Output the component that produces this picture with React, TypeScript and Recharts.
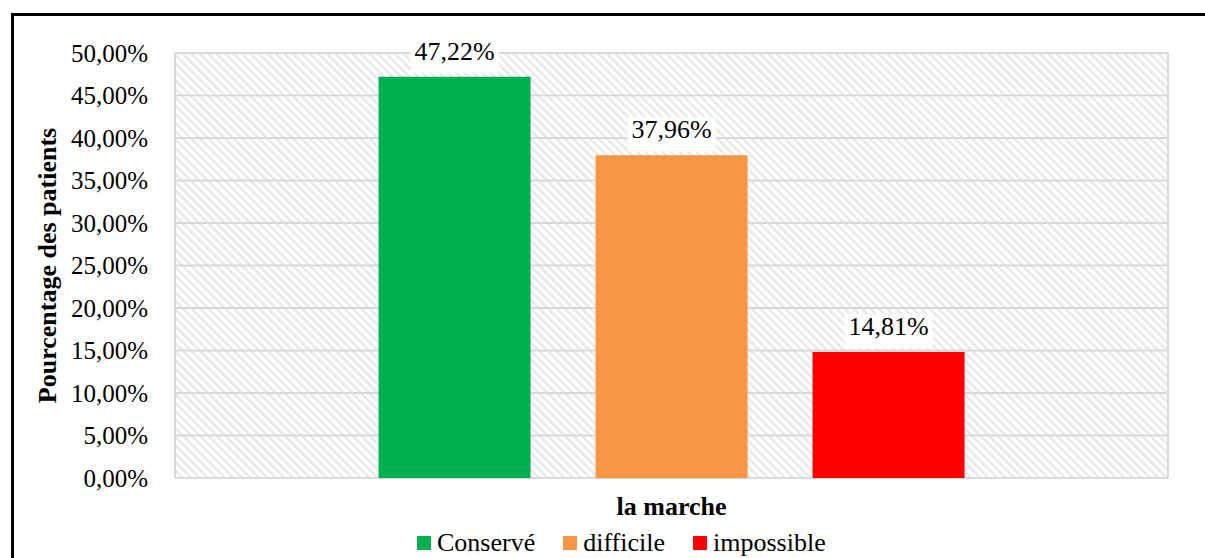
import { BarChart, Bar, XAxis, YAxis, CartesianGrid, Legend, LabelList } from "recharts";

const categories = ["la marche"];
const conserve = [0.4722];
const difficile = [0.3796];
const impossible = [0.1481];
const yTicks = [0, 0.05, 0.1, 0.15, 0.2, 0.25, 0.3, 0.35, 0.4, 0.45, 0.5];

const series = [
  { key: "conserve", name: "Conservé", color: "#00B050", values: conserve },
  { key: "difficile", name: "difficile", color: "#F79646", values: difficile },
  { key: "impossible", name: "impossible", color: "#FF0000", values: impossible },
];

const data = categories.map((cat, i) => ({
  cat,
  conserve: conserve[i],
  difficile: difficile[i],
  impossible: impossible[i],
}));

const FONT = '"Liberation Serif", "Times New Roman", serif';

function pct(v: number): string {
  return (v * 100).toFixed(2).replace(".", ",") + "%";
}

function YTitle(props: any) {
  const vb = props.viewBox;
  const cx = vb.x + 47;
  const cy = vb.y + vb.height / 2;
  return (
    <text
      x={cx}
      y={cy}
      transform={`rotate(-90 ${cx} ${cy})`}
      textAnchor="middle"
      dominantBaseline="central"
      fontFamily={FONT}
      fontWeight="bold"
      fontSize={26}
      fill="#000"
    >
      Pourcentage des patients
    </text>
  );
}

// value label with white box behind it, like the Excel one
function ValueLabel(props: any) {
  const { x, y, width, value } = props;
  const cx = x + width / 2;
  return (
    <g>
      <rect x={cx - 44} y={y - 38} width={88} height={34} fill="#fff" />
      <text x={cx} y={y - 17} textAnchor="middle" fontFamily={FONT} fontSize={26} fill="#000">
        {pct(value)}
      </text>
    </g>
  );
}

function LegendBox() {
  return (
    <div
      style={{
        display: "flex",
        alignItems: "center",
        height: 30,
        paddingLeft: 417,
        fontFamily: FONT,
        fontSize: 26,
        color: "#000",
      }}
    >
      {series.map((s) => (
        <div key={s.key} style={{ display: "flex", alignItems: "center", marginRight: 28 }}>
          <span style={{ width: 14, height: 14, background: s.color, marginRight: 6 }} />
          <span style={{ lineHeight: "30px" }}>{s.name}</span>
        </div>
      ))}
    </div>
  );
}

export default function App() {
  return (
    <div
      style={{
        position: "fixed",
        left: 0,
        top: 0,
        width: 1205,
        height: 558,
        overflow: "hidden",
        background: "#fff",
      }}
    >
      {/* outer frame, cut off at right and bottom in the source */}
      <div
        style={{
          position: "absolute",
          left: 11,
          top: 13,
          width: 1220,
          height: 580,
          border: "3px solid #000",
        }}
      />
      <div style={{ position: "absolute", left: 0, top: 0 }}>
        <BarChart
          width={1205}
          height={558}
          data={data}
          margin={{ top: 53, right: 37, bottom: 0, left: 0 }}
          barCategoryGap="20.5%"
          barGap={65}
        >
          <defs>
            <pattern
              id="hatch"
              patternUnits="userSpaceOnUse"
              width={6}
              height={6}
              patternTransform="rotate(-45)"
            >
              <rect x={0} y={0} width={6} height={6} fill="#fff" />
              <rect x={0} y={0} width={2.4} height={6} fill="#E8E8E8" />
            </pattern>
          </defs>
          <CartesianGrid
            fill="url(#hatch)"
            stroke="#D9D9D9"
            strokeWidth={2}
            vertical={true}
            verticalCoordinatesGenerator={({ offset }: any) => [offset.left, offset.left + offset.width]}
          />
          <XAxis
            dataKey="cat"
            height={50}
            axisLine={false}
            tickLine={false}
            tickMargin={13}
            tick={{ fill: "#000", fontSize: 26, fontWeight: "bold", fontFamily: FONT }}
          />
          <YAxis
            width={175}
            domain={[0, 0.5]}
            ticks={yTicks}
            interval={0}
            axisLine={false}
            tickLine={false}
            tickMargin={21}
            tickFormatter={pct}
            tick={{ fill: "#000", fontSize: 25, fontFamily: FONT }}
            label={{ content: YTitle }}
          />
          <Legend
            verticalAlign="bottom"
            content={LegendBox}
            wrapperStyle={{ left: 0, width: 1205, height: 30 }}
          />
          {series.map((s) => (
            <Bar key={s.key} dataKey={s.key} name={s.name} fill={s.color} isAnimationActive={false}>
              <LabelList dataKey={s.key} content={ValueLabel} />
            </Bar>
          ))}
        </BarChart>
      </div>
    </div>
  );
}
